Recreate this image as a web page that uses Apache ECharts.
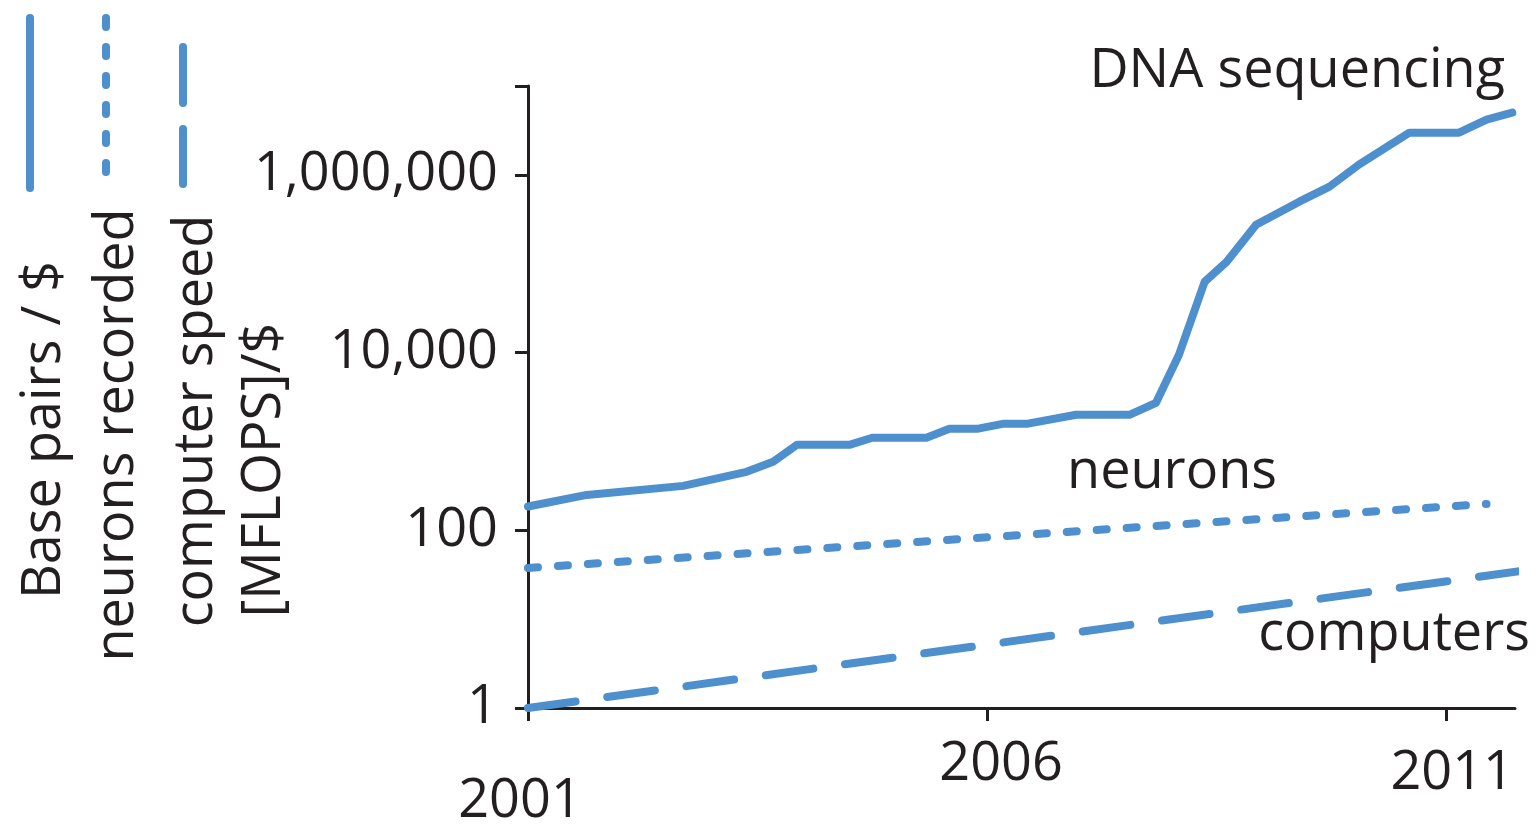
<!DOCTYPE html>
<html>
<head>
<meta charset="utf-8">
<title>DNA sequencing vs neurons vs computers</title>
<script src="https://cdn.jsdelivr.net/npm/echarts@6/dist/echarts.min.js"></script>
<style>
  html, body { margin: 0; padding: 0; background: #fff; }
  #main { width: 1536px; height: 825px; }
</style>
</head>
<body>
<div id="main"></div>
<script>
// data
var dnaYears  = [2001.0, 2001.64, 2002.69, 2003.38, 2003.67, 2003.93, 2004.5, 2004.75, 2005.34, 2005.59, 2005.89, 2006.17, 2006.43, 2006.97, 2007.55, 2007.84, 2008.09, 2008.37, 2008.61, 2008.93, 2009.4, 2009.73, 2010.05, 2010.6, 2011.14, 2011.44, 2011.72];
var dnaValues = [185, 250, 316, 455, 589, 916, 916, 1099, 1099, 1387, 1387, 1578, 1578, 1995, 1995, 2722, 9441, 62700, 105400, 275000, 499000, 737000, 1303000, 2986000, 2986000, 4188000, 5012000];

var neuronYears  = [2001.0, 2011.44];
var neuronValues = [37.7, 198];

var computerYears  = [2001.0, 2011.9];
var computerValues = [1, 35.8];

var xTicks = [2001, 2006, 2011];
var yTicks = [1, 100, 10000, 1000000];

var blue = '#4e8fcd';
var ink = '#231f20';
var font = 'Open Sans';

function pairs(xs, ys) {
  var out = [];
  for (var i = 0; i < xs.length; i++) out.push([xs[i], ys[i]]);
  return out;
}

var myChart = echarts.init(document.getElementById('main'));

var option = {
  animation: false,
  grid: {
    left: 528,
    right: 21,
    top: 86,
    bottom: 117,
    outerBoundsMode: 'none'
  },
  xAxis: {
    type: 'value',
    min: 2001,
    max: 2011.75,
    interval: 5,
    axisLine: { lineStyle: { color: ink, width: 3 } },
    axisTick: { length: 13, lineStyle: { color: ink, width: 3 }, customValues: xTicks },
    splitLine: { show: false },
    axisLabel: {
      customValues: xTicks,
      margin: 22,
      color: ink,
      fontFamily: font,
      fontSize: 54,
      formatter: function (v) {
        if (v === 2001) return '{low|' + v + '}';
        if (v === 2011) return '{mid|' + v + '}';
        return '{def|' + v + '}';
      },
      // the three year labels sit at slightly different heights in the original
      rich: {
        def: { fontFamily: font, fontSize: 54, color: ink, padding: [8, 0, 0, 28] },
        mid: { fontFamily: font, fontSize: 54, color: ink, padding: [17, 0, 0, 12] },
        low: { fontFamily: font, fontSize: 54, color: ink, padding: [45, 16, 0, 0] }
      }
    }
  },
  yAxis: {
    type: 'log',
    logBase: 100,
    min: 1,
    max: 10000000,
    splitNumber: 4,
    axisLine: { show: true, lineStyle: { color: ink, width: 3 } },
    axisTick: { show: true, length: 13, lineStyle: { color: ink, width: 3 } },
    splitLine: { show: false },
    axisLabel: {
      margin: 30,
      color: ink,
      fontFamily: font,
      fontSize: 54,
      formatter: function (v) {
        var r = Math.round(v);
        if (yTicks.indexOf(r) < 0) return '';
        return r.toLocaleString('en-US');
      }
    }
  },
  series: [
    {
      name: 'DNA sequencing',
      type: 'line',
      showSymbol: false,
      clip: false,
      data: pairs(dnaYears, dnaValues),
      lineStyle: { color: blue, width: 8, cap: 'round', join: 'round' }
    },
    {
      name: 'neurons',
      type: 'line',
      showSymbol: false,
      clip: false,
      data: pairs(neuronYears, neuronValues),
      lineStyle: { color: blue, width: 8, type: [10, 20], cap: 'round' }
    },
    {
      name: 'computers',
      type: 'line',
      showSymbol: false,
      clip: false,
      data: pairs(computerYears, computerValues),
      lineStyle: { color: blue, width: 8, type: [48, 32], cap: 'round' }
    }
  ],
  graphic: [
    // legend samples, vertical
    { type: 'line', shape: { x1: 30, y1: 18, x2: 30, y2: 188 }, style: { stroke: blue, lineWidth: 8, lineCap: 'round' } },
    { type: 'line', shape: { x1: 106, y1: 18, x2: 106, y2: 188 }, style: { stroke: blue, lineWidth: 8, lineCap: 'round', lineDash: [9, 20] } },
    { type: 'line', shape: { x1: 183, y1: 47, x2: 183, y2: 184 }, style: { stroke: blue, lineWidth: 8, lineCap: 'round', lineDash: [56, 26] } },
    // legend texts, rotated
    { type: 'text', x: 45, y: 430, rotation: Math.PI / 2, style: { text: 'Base pairs / $', fill: ink, font: '54px "Open Sans"', align: 'center', verticalAlign: 'middle' } },
    { type: 'text', x: 118, y: 435, rotation: Math.PI / 2, style: { text: 'neurons recorded', fill: ink, font: '54px "Open Sans"', align: 'center', verticalAlign: 'middle' } },
    { type: 'text', x: 197, y: 421, rotation: Math.PI / 2, style: { text: 'computer speed', fill: ink, font: '54px "Open Sans"', align: 'center', verticalAlign: 'middle' } },
    { type: 'text', x: 265, y: 470, rotation: Math.PI / 2, style: { text: '[MFLOPS]/$', fill: ink, font: '54px "Open Sans"', align: 'center', verticalAlign: 'middle' } },
    // series labels
    { type: 'text', x: 1505, y: 72, style: { text: 'DNA sequencing', fill: ink, font: '54px "Open Sans"', align: 'right', verticalAlign: 'middle' } },
    { type: 'text', x: 1172, y: 473, style: { text: 'neurons', fill: ink, font: '54px "Open Sans"', align: 'center', verticalAlign: 'middle' } },
    { type: 'text', x: 1530, y: 635, style: { text: 'computers', fill: ink, font: '54px "Open Sans"', align: 'right', verticalAlign: 'middle' } }
  ]
};

myChart.setOption(option);
</script>
</body>
</html>
